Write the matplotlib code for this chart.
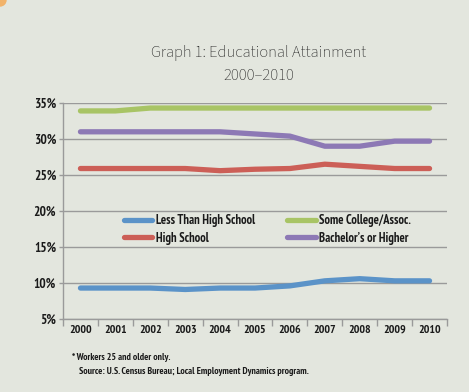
import matplotlib
matplotlib.use("Agg")
import matplotlib.pyplot as plt
from matplotlib.patches import Ellipse

years = ["2000", "2001", "2002", "2003", "2004", "2005", "2006", "2007", "2008", "2009", "2010"]
less_than_hs = [9.3, 9.3, 9.3, 9.1, 9.3, 9.3, 9.6, 10.3, 10.6, 10.3, 10.3]
high_school = [25.9, 25.9, 25.9, 25.9, 25.6, 25.8, 25.9, 26.5, 26.2, 25.9, 25.9]
some_college = [33.9, 33.9, 34.3, 34.3, 34.3, 34.3, 34.3, 34.3, 34.3, 34.3, 34.3]
bachelors = [31.0, 31.0, 31.0, 31.0, 31.0, 30.7, 30.4, 29.0, 29.0, 29.7, 29.7]
series_names = ["Less Than High School", "High School", "Some College/Assoc.", "Bachelor\u2019s or Higher"]
y_ticks = [5, 10, 15, 20, 25, 30, 35]

colors = ["#5B93C8", "#CC5F57", "#A8C465", "#8D79B5"]
bg = "#E3E6DE"
grid_c = "#9A9A9A"
lab_font = ["PT Sans Narrow", "DejaVu Sans"]
title_font = ["Source Sans 3", "DejaVu Sans"]

fig = plt.figure(figsize=(4.69, 3.92), dpi=100, facecolor=bg)
ax = fig.add_axes([63/469, 1-319/392, (447-63)/469, (319-103)/392])
ax.set_facecolor(bg)

x = list(range(len(years)))
for vals, c, name in zip([less_than_hs, high_school, some_college, bachelors], colors, series_names):
    ax.plot(x, vals, color=c, lw=3.8, solid_capstyle="round", solid_joinstyle="round", label=name, zorder=3)

ax.set_xlim(-0.5, len(years) - 0.5)
ax.set_ylim(5, 35)
ax.set_yticks(y_ticks)
ax.set_yticklabels([f"{v}%" for v in y_ticks], fontfamily=lab_font, fontweight="bold", fontsize=9.6, color="#1a1a1a")
ax.yaxis.grid(True, color=grid_c, lw=1.0, zorder=1)
ax.tick_params(axis="y", length=3, color=grid_c, width=1.0, pad=2)

ax.set_xticks(x)
ax.set_xticklabels(years, fontfamily=lab_font, fontweight="bold", fontsize=8.6, color="#1a1a1a")
ax.set_xticks([i - 0.5 for i in range(len(years) + 1)], minor=True)
ax.tick_params(axis="x", which="major", length=0, pad=4)
ax.tick_params(axis="x", which="minor", length=5, color=grid_c, width=1.0)

for s in ["top", "right"]:
    ax.spines[s].set_visible(False)
for s in ["left", "bottom"]:
    ax.spines[s].set_color(grid_c)
    ax.spines[s].set_linewidth(1.0)

leg = ax.legend(ncol=2, loc="upper left", bbox_to_anchor=(0.158, 0.485), frameon=False,
                handlelength=2.3, handletextpad=0.25, columnspacing=2.6, labelspacing=0.35,
                borderaxespad=0, borderpad=0,
                prop={"family": lab_font, "weight": "bold", "size": 9})
for h in leg.get_lines():
    h.set_linewidth(3.8)
    h.set_solid_capstyle("round")
for t in leg.get_texts():
    t.set_color("#1a1a1a")

fig.text(259/469, 1-53/392, "Graph 1: Educational Attainment", ha="center", va="center",
         fontfamily=title_font, fontweight="light", fontsize=11.9, color="#222222")
fig.text(259/469, 1-76/392, "2000\u20132010", ha="center", va="center",
         fontfamily=title_font, fontweight="light", fontsize=11.9, color="#222222")

fig.text(72/469, 1-357/392, "* Workers 25 and older only.", ha="left", va="center",
         fontfamily=lab_font, fontweight="bold", fontsize=7, color="#1a1a1a")
fig.text(79/469, 1-371/392, "Source: U.S. Census Bureau; Local Employment Dynamics program.", ha="left", va="center",
         fontfamily=lab_font, fontweight="bold", fontsize=7, color="#1a1a1a")

fig.patches.append(Ellipse((0, 1), 2*6/469, 2*6/392, transform=fig.transFigure, color="#F2B36A", figure=fig))

fig.savefig("out.png", dpi=100, facecolor=bg)
